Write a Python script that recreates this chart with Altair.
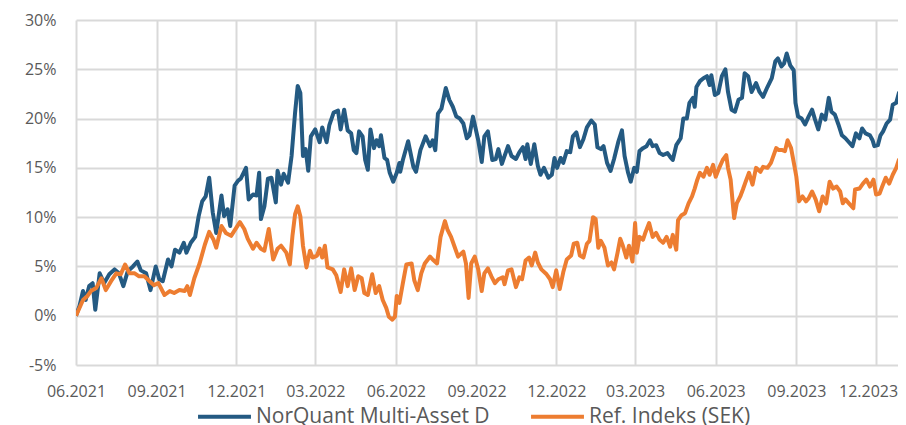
import altair as alt
import pandas as pd

# ---- data ----
start_date = "2021-06-01"
series_names = ["NorQuant Multi-Asset D", "Ref. Indeks (SEK)"]
series_colors = ["#245a82", "#ed7d31"]

# (days since 2021-06-01, return in %)
norquant_points = [
    (0, 0.0), (4, 1.0), (8, 2.5), (11, 1.6), (15, 3.0), (19, 3.3), (22, 0.6), (27, 4.3),
    (32, 3.3), (38, 4.2), (44, 4.7), (49, 4.3), (54, 3.0), (59, 4.5), (65, 5.0), (70, 5.5),
    (74, 4.6), (80, 4.3), (85, 2.6), (91, 5.0), (95, 3.7), (99, 3.5), (105, 5.7), (109, 5.0),
    (113, 6.7), (118, 6.4), (123, 7.4), (126, 6.4), (131, 7.4), (136, 8.0), (140, 10.1),
    (144, 11.6), (148, 12.1), (152, 14.0), (156, 10.5), (160, 8.4), (166, 12.2), (169, 10.1),
    (173, 10.8), (176, 9.1), (181, 13.2), (185, 13.7), (188, 13.9), (194, 15.0), (197, 11.8),
    (202, 12.3), (206, 12.2), (209, 14.5), (211, 9.8), (215, 11.1), (219, 13.9), (223, 14.0),
    (228, 11.5), (230, 14.7), (234, 13.3), (237, 14.4), (242, 13.5), (246, 16.2), (250, 20.6),
    (253, 23.3), (256, 22.6), (259, 16.2), (262, 16.9), (265, 14.7), (268, 18.2), (273, 18.9),
    (278, 17.6), (281, 19.1), (286, 17.6), (289, 19.3), (294, 20.6), (299, 20.8), (302, 18.9),
    (306, 20.9), (310, 18.8), (314, 18.5), (317, 16.8), (320, 16.5), (323, 18.7), (327, 18.2),
    (330, 15.8), (333, 14.8), (336, 18.9), (340, 17.0), (343, 17.8), (346, 17.2), (348, 18.3),
    (352, 16.0), (355, 15.8), (358, 14.5), (362, 13.6), (366, 14.5), (369, 15.5), (370, 14.6),
    (373, 15.8), (379, 17.7), (385, 15.1), (388, 14.6), (393, 16.8), (399, 18.2), (404, 17.2),
    (407, 17.8), (410, 16.8), (413, 20.5), (417, 21.0), (422, 23.1), (426, 21.9), (430, 21.2),
    (434, 20.2), (438, 20.0), (442, 19.5), (446, 18.0), (449, 18.3), (453, 20.2), (459, 17.8),
    (463, 15.6), (466, 18.2), (470, 18.7), (475, 15.8), (479, 15.9), (482, 16.9), (486, 15.4),
    (489, 16.2), (493, 17.2), (497, 16.2), (502, 15.9), (506, 16.6), (510, 17.1), (513, 15.9),
    (515, 17.4), (519, 15.4), (523, 17.4), (527, 15.2), (530, 14.3), (534, 15.0), (539, 14.0),
    (543, 14.3), (546, 16.0), (549, 15.0), (553, 16.0), (556, 15.5), (560, 16.7), (564, 16.6),
    (567, 18.2), (571, 18.6), (575, 17.1), (579, 17.9), (583, 19.1), (588, 19.8), (592, 19.4),
    (595, 17.1), (599, 16.9), (602, 17.2), (606, 15.5), (610, 14.7), (614, 15.9), (619, 17.7),
    (623, 18.8), (626, 16.2), (630, 14.5), (633, 13.6), (637, 15.0), (640, 14.6), (643, 16.7),
    (647, 17.0), (651, 17.2), (655, 17.8), (658, 17.2), (662, 17.3), (666, 16.5), (670, 16.3),
    (675, 16.5), (679, 16.0), (681, 15.8), (685, 17.3), (690, 18.0), (693, 20.0), (697, 20.0),
    (700, 21.6), (704, 22.1), (706, 21.2), (708, 23.2), (712, 23.8), (716, 24.1), (720, 24.3),
    (723, 23.4), (725, 24.4), (729, 22.4), (733, 22.6), (737, 24.3), (741, 25.0), (744, 22.7),
    (748, 20.9), (752, 20.7), (756, 21.9), (760, 22.1), (763, 24.6), (767, 24.3), (771, 22.7),
    (776, 23.6), (780, 22.7), (784, 22.2), (789, 23.2), (794, 24.1), (798, 25.8), (801, 26.1),
    (805, 25.3), (808, 25.6), (811, 26.6), (815, 25.4), (819, 24.9), (821, 21.6), (824, 20.2),
    (828, 20.0), (832, 19.4), (836, 20.2), (840, 20.9), (843, 20.0), (847, 18.9), (851, 20.4),
    (855, 19.9), (859, 22.1), (862, 20.7), (866, 20.4), (870, 19.4), (874, 18.3), (878, 18.0),
    (881, 17.7), (886, 17.2), (890, 18.5), (894, 18.0), (897, 19.0), (901, 18.5), (906, 18.3),
    (909, 17.8), (911, 17.2), (915, 17.3), (918, 18.3), (921, 18.7), (925, 19.5), (929, 19.9),
    (932, 21.4), (936, 21.6), (939, 22.6), (942, 22.9), (946, 23.4),
]

ref_points = [
    (0, 0.0), (8, 1.6), (13, 2.0), (17, 2.5), (23, 2.8), (29, 3.8), (34, 2.6), (40, 3.5),
    (46, 4.3), (51, 4.2), (56, 5.2), (61, 4.3), (67, 4.3), (72, 4.0), (78, 4.0), (84, 3.5),
    (89, 3.1), (94, 3.3), (101, 2.1), (107, 2.5), (112, 2.3), (118, 2.6), (124, 2.5), (127, 3.0),
    (130, 2.1), (135, 3.8), (141, 5.3), (147, 7.2), (152, 8.5), (157, 7.7), (160, 6.9),
    (166, 9.1), (171, 8.4), (177, 8.1), (187, 9.5), (192, 8.8), (196, 7.8), (202, 6.8),
    (206, 7.4), (211, 6.8), (215, 6.6), (220, 8.8), (225, 5.7), (230, 6.8), (234, 7.1),
    (240, 6.4), (244, 5.2), (247, 8.1), (250, 10.3), (253, 11.1), (256, 10.1), (259, 7.1),
    (263, 4.9), (267, 6.6), (270, 5.9), (275, 6.1), (278, 6.8), (281, 5.9), (284, 7.1),
    (287, 4.9), (293, 4.7), (297, 4.1), (302, 2.4), (306, 4.7), (310, 3.0), (314, 4.8),
    (318, 2.6), (322, 4.0), (326, 3.8), (329, 2.3), (333, 2.1), (338, 4.2), (342, 2.3),
    (346, 3.0), (350, 1.6), (354, 0.8), (357, -0.1), (361, -0.4), (364, -0.1), (366, 2.0),
    (369, 1.3), (373, 3.3), (377, 5.2), (383, 5.3), (386, 3.6), (390, 2.6), (394, 4.3),
    (398, 5.3), (404, 6.0), (407, 5.7), (412, 5.3), (416, 8.0), (421, 9.6), (424, 8.7),
    (428, 8.0), (432, 7.0), (436, 6.0), (442, 6.5), (445, 5.3), (448, 1.8), (451, 5.3),
    (455, 6.0), (459, 4.7), (463, 2.5), (466, 4.3), (470, 4.8), (474, 4.0), (478, 3.3),
    (482, 3.7), (487, 3.9), (489, 3.2), (493, 4.6), (497, 4.7), (502, 2.9), (506, 3.9),
    (509, 3.7), (513, 5.6), (517, 5.9), (520, 5.1), (524, 6.4), (527, 5.4), (531, 4.7),
    (537, 4.2), (541, 3.7), (544, 2.9), (548, 4.6), (552, 2.7), (556, 4.4), (560, 5.7),
    (565, 6.1), (568, 7.3), (572, 7.4), (575, 6.1), (579, 5.9), (583, 7.3), (586, 7.6),
    (590, 10.0), (593, 9.8), (596, 6.9), (599, 7.6), (603, 6.9), (607, 5.1), (611, 5.4),
    (614, 4.7), (618, 6.4), (621, 7.8), (624, 7.1), (628, 5.9), (631, 7.1), (635, 5.5),
    (638, 9.4), (640, 6.4), (643, 8.0), (647, 7.7), (650, 8.5), (654, 9.4), (658, 8.0),
    (662, 8.4), (666, 7.7), (670, 7.4), (674, 8.0), (678, 7.0), (681, 8.2), (685, 6.7),
    (687, 9.7), (691, 10.2), (695, 10.4), (699, 11.4), (703, 12.1), (706, 12.9), (709, 13.8),
    (712, 14.5), (716, 14.1), (720, 15.0), (723, 14.3), (727, 15.3), (730, 14.1), (734, 15.0),
    (738, 15.8), (742, 16.3), (744, 15.0), (747, 13.8), (751, 9.9), (754, 11.4), (758, 12.1),
    (761, 12.8), (765, 13.8), (768, 14.5), (772, 13.3), (776, 15.0), (781, 14.6), (784, 15.1),
    (789, 15.0), (793, 15.5), (799, 17.0), (802, 16.8), (806, 16.8), (809, 16.7), (812, 17.8),
    (816, 17.0), (820, 15.1), (822, 14.1), (825, 11.6), (829, 12.1), (833, 11.6), (836, 11.9),
    (840, 12.6), (844, 11.8), (848, 10.6), (852, 12.1), (856, 11.4), (860, 13.6), (864, 12.9),
    (868, 13.1), (872, 12.6), (875, 11.4), (878, 11.8), (882, 11.4), (887, 10.9), (889, 12.8),
    (894, 12.9), (898, 13.4), (902, 13.8), (906, 13.1), (910, 13.8), (913, 12.3), (917, 12.4),
    (920, 13.1), (924, 14.0), (928, 13.4), (932, 14.3), (936, 15.0), (939, 15.8), (943, 16.3),
    (946, 17.2),
]

tick_months = [(2021, 6), (2021, 9), (2021, 12), (2022, 3), (2022, 6), (2022, 9),
               (2022, 12), (2023, 3), (2023, 6), (2023, 9), (2023, 12)]
y_ticks = [-0.05, 0.0, 0.05, 0.10, 0.15, 0.20, 0.25, 0.30]
x_domain = [(2021, 6, 1), (2023, 12, 26)]

# ---- build table ----
rows = []
t0 = pd.Timestamp(start_date)
for name, pts in zip(series_names, [norquant_points, ref_points]):
    for d, v in pts:
        rows.append({"date": t0 + pd.Timedelta(days=d), "value": v / 100.0, "series": name})
df = pd.DataFrame(rows)

tick_vals = [alt.DateTime(year=y, month=m, date=1) for y, m in tick_months]
dom = [alt.DateTime(year=y, month=m, date=d) for y, m, d in x_domain]

# keep the last date label inside the page
last_label_test = "datum.value > datetime(2023, 9, 1)"

chart = (
    alt.Chart(df)
    .mark_line(strokeWidth=4, clip=True, strokeJoin="round")
    .encode(
        x=alt.X(
            "date:T",
            scale=alt.Scale(domain=dom),
            axis=alt.Axis(values=tick_vals, format="%m.%Y", title=None, grid=True,
                          ticks=False, domain=False, labelFlush=False,
                          labelOverlap=False, labelPadding=18,
                          labelOffset={"condition": {"test": last_label_test, "value": -8},
                                       "value": 0}),
        ),
        y=alt.Y(
            "value:Q",
            scale=alt.Scale(domain=[-0.05, 0.30], nice=False, zero=False),
            axis=alt.Axis(values=y_ticks, labelExpr="round(datum.value*100) + '%'",
                          title=None, ticks=False, domain=False, labelPadding=20),
        ),
        color=alt.Color(
            "series:N",
            scale=alt.Scale(domain=series_names, range=series_colors),
            legend=alt.Legend(title=None, orient="none", legendX=120, legendY=368,
                              direction="horizontal", symbolType="stroke",
                              symbolSize=2800, symbolStrokeWidth=4, labelFontSize=21,
                              labelLimit=500, labelOffset=3, columnPadding=33, padding=0),
        ),
    )
    .properties(
        width=822,
        height=345,
        autosize=alt.AutoSizeParams(type="none"),
        padding={"left": 68, "top": 12, "right": 0, "bottom": 62},
    )
    .configure_view(stroke=None)
    .configure_axis(gridColor="#d9d9d9", gridWidth=2, labelFont="Open Sans",
                    labelFontSize=16, labelColor="#595959")
    .configure_legend(labelFont="Open Sans", labelColor="#595959")
)

chart.save("out.html", embed_options={"renderer": "svg", "actions": False})
